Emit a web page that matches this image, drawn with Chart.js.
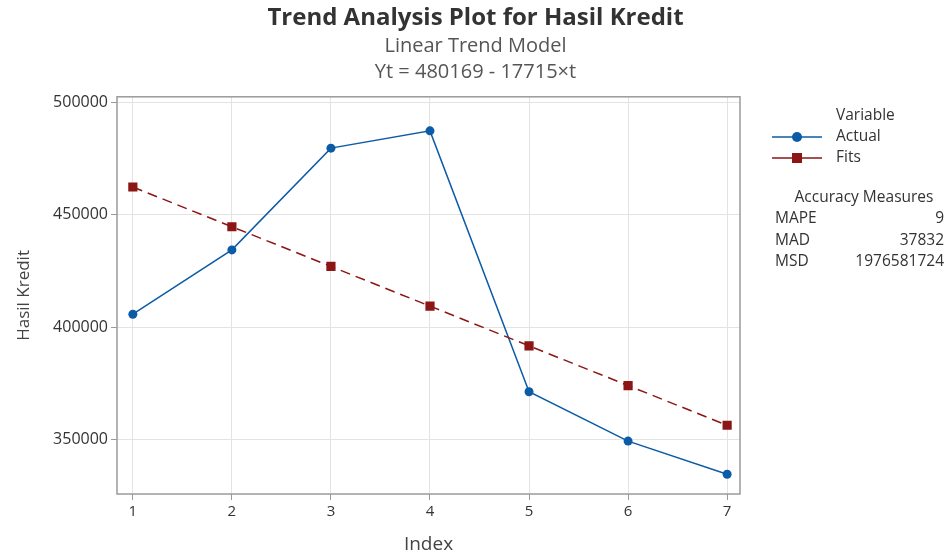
<!DOCTYPE html>
<html>
<head>
<meta charset="utf-8">
<script src="https://cdn.jsdelivr.net/npm/chart.js@4"></script>
<style>
  html, body { margin: 0; padding: 0; background: #fff; }
  #wrap { width: 951px; height: 556px; }
</style>
</head>
<body>
<div id="wrap"><canvas id="trend-chart"></canvas></div>
<script>
const indexes = [1, 2, 3, 4, 5, 6, 7];
const actualValues = [405700, 434400, 479800, 487500, 371100, 349100, 334300];
const fitsValues = [462454, 444739, 427024, 409309, 391594, 373879, 356164];
const xTicks = [1, 2, 3, 4, 5, 6, 7];
const yTicks = [350000, 400000, 450000, 500000];
const measureNames = ['MAPE', 'MAD', 'MSD'];
const measureValues = ['9', '37832', '1976581724'];

const FONT = "'Open Sans', 'Noto Sans', sans-serif";
const blue = '#0b5ba6';
const red = '#8c1515';

// legend + accuracy measures on the right
const sidePanel = {
    id: 'sidePanel',
    afterDraw(chart) {
        const ctx = chart.ctx;
        ctx.save();
        ctx.fillStyle = '#333';
        ctx.font = '15.5px ' + FONT;
        ctx.textBaseline = 'middle';
        ctx.textAlign = 'left';
        ctx.fillText('Variable', 836, 116);

        const rows = [
            { label: 'Actual', color: blue, y: 137, style: 'circle' },
            { label: 'Fits', color: red, y: 158, style: 'rect' }
        ];
        rows.forEach(r => {
            ctx.strokeStyle = r.color;
            ctx.lineWidth = 1.5;
            ctx.beginPath();
            ctx.moveTo(772, r.y);
            ctx.lineTo(822, r.y);
            ctx.stroke();
            ctx.fillStyle = r.color;
            if (r.style === 'circle') {
                ctx.beginPath();
                ctx.arc(797, r.y, 5, 0, Math.PI * 2);
                ctx.fill();
            } else {
                ctx.fillRect(792, r.y - 5, 10, 10);
            }
            ctx.fillStyle = '#333';
            ctx.fillText(r.label, 836, r.y);
        });

        ctx.textAlign = 'center';
        ctx.fillText('Accuracy Measures', 864, 198);
        measureNames.forEach((name, i) => {
            const y = 219 + i * 21.5;
            ctx.textAlign = 'left';
            ctx.fillText(name, 775, y);
            ctx.textAlign = 'right';
            ctx.fillText(measureValues[i], 944, y);
        });
        ctx.restore();
    }
};

// grey frame around the plot area
const frame = {
    id: 'frame',
    afterDatasetsDraw(chart) {
        const a = chart.chartArea;
        const ctx = chart.ctx;
        ctx.save();
        ctx.strokeStyle = '#9a9a9a';
        ctx.lineWidth = 1.5;
        ctx.strokeRect(a.left, a.top, a.right - a.left, a.bottom - a.top);
        ctx.restore();
    }
};

const data = {
    datasets: [
        {
            label: 'Fits',
            data: indexes.map((x, i) => ({ x: x, y: fitsValues[i] })),
            borderColor: red,
            backgroundColor: red,
            borderWidth: 1.5,
            borderDash: [10, 6],
            pointStyle: 'rect',
            pointRadius: 6.5,
            pointBorderWidth: 0
        },
        {
            label: 'Actual',
            data: indexes.map((x, i) => ({ x: x, y: actualValues[i] })),
            borderColor: blue,
            backgroundColor: blue,
            borderWidth: 1.5,
            pointStyle: 'circle',
            pointRadius: 4.5,
            pointBorderWidth: 0
        }
    ]
};

const config = {
    type: 'line',
    data: data,
    plugins: [frame, sidePanel],
    options: {
        responsive: true,
        maintainAspectRatio: false,
        animation: false,
        layout: { padding: 0 },
        plugins: {
            legend: { display: false },
            tooltip: { enabled: false },
            title: {
                display: true,
                text: 'Trend Analysis Plot for Hasil Kredit',
                color: '#333',
                font: { family: FONT, size: 24, weight: 'bold', lineHeight: 1.2 },
                padding: { top: 4, bottom: 0 }
            },
            subtitle: {
                display: true,
                text: ['Linear Trend Model', 'Yt = 480169 - 17715×t'],
                color: '#555',
                font: { family: FONT, size: 20, lineHeight: 1.3 },
                padding: { top: 0, bottom: 12 }
            }
        },
        scales: {
            x: {
                type: 'linear',
                min: 0.84,
                max: 7.13,
                afterFit: s => { s.height = 62; },
                afterBuildTicks: s => { s.ticks = xTicks.map(v => ({ value: v })); },
                grid: { color: '#e3e3e3', tickColor: '#9a9a9a', tickLength: 6, drawOnChartArea: true },
                border: { display: false },
                ticks: { color: '#333', font: { family: FONT, size: 15 }, padding: 3 },
                title: {
                    display: true,
                    text: 'Index',
                    color: '#444',
                    font: { family: FONT, size: 19 },
                    padding: { top: 0, bottom: 0 }
                }
            },
            y: {
                min: 325500,
                max: 502700,
                afterFit: s => { s.width = 117; },
                afterBuildTicks: s => { s.ticks = yTicks.map(v => ({ value: v })); },
                grid: { color: '#e3e3e3', tickColor: '#9a9a9a', tickLength: 6 },
                border: { display: false },
                ticks: {
                    color: '#333',
                    font: { family: FONT, size: 16 },
                    padding: 3,
                    callback: v => String(v)
                },
                title: {
                    display: true,
                    text: 'Hasil Kredit',
                    color: '#444',
                    font: { family: FONT, size: 17 },
                    padding: { top: 14, bottom: 0 }
                }
            },
            // empty right-hand axis that only reserves room for the side panel
            side: {
                type: 'linear',
                position: 'right',
                display: true,
                afterFit: s => { s.width = 211; },
                grid: { display: false, drawTicks: false },
                border: { display: false },
                ticks: { display: false }
            }
        }
    }
};

new Chart(document.querySelector('#trend-chart'), config);
</script>
</body>
</html>
